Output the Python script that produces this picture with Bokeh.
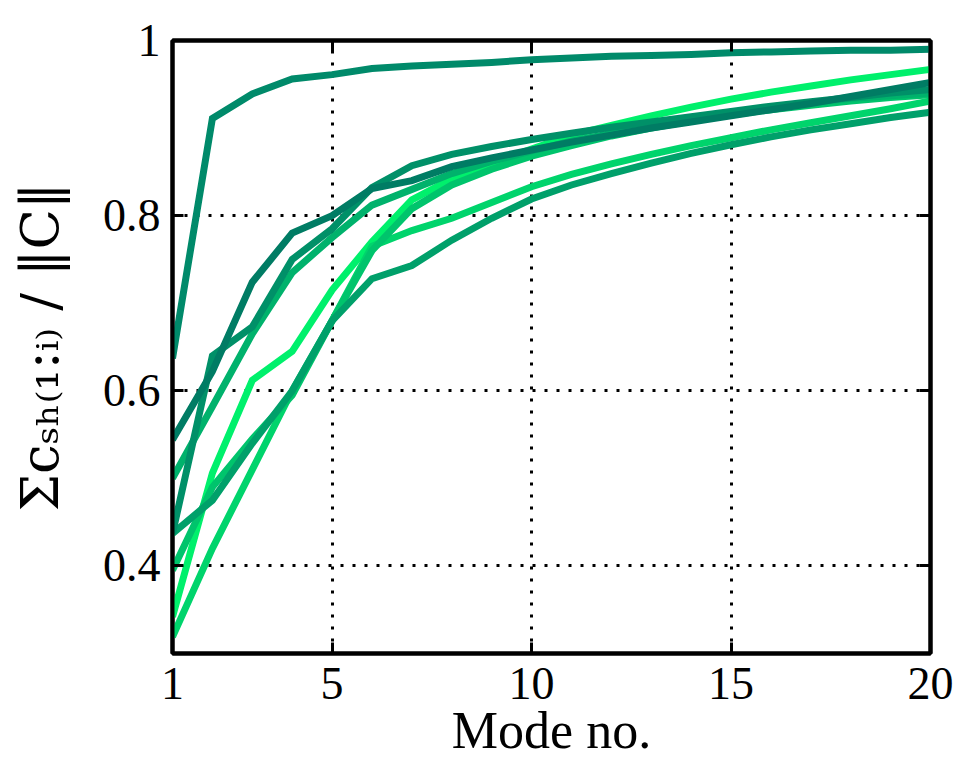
from bokeh.plotting import figure
from bokeh.models import FixedTicker, LinearAxis, NumeralTickFormatter, Range1d, CustomJSTickFormatter
from bokeh.embed import file_html
from bokeh.resources import INLINE

modes = list(range(1, 21))

# cumulative normalised contribution per curve
curve_a = [0.637, 0.911, 0.939, 0.956, 0.961, 0.968, 0.971, 0.973, 0.975, 0.978,
           0.980, 0.982, 0.983, 0.984, 0.986, 0.987, 0.988, 0.989, 0.989, 0.990]
curve_b = [0.544, 0.622, 0.724, 0.780, 0.800, 0.831, 0.840, 0.856, 0.866, 0.875,
           0.884, 0.892, 0.900, 0.907, 0.914, 0.921, 0.928, 0.936, 0.944, 0.952]
curve_u = [0.437, 0.640, 0.673, 0.750, 0.785, 0.832, 0.857, 0.870, 0.879, 0.887,
           0.894, 0.901, 0.907, 0.913, 0.919, 0.925, 0.930, 0.935, 0.940, 0.944]
curve_c = [0.500, 0.582, 0.665, 0.735, 0.775, 0.812, 0.830, 0.848, 0.862, 0.874,
           0.885, 0.894, 0.903, 0.911, 0.918, 0.924, 0.929, 0.934, 0.937, 0.940]
curve_x = [0.395, 0.490, 0.545, 0.595, 0.680, 0.760, 0.808, 0.835, 0.853, 0.868,
           0.880, 0.891, 0.900, 0.908, 0.915, 0.921, 0.926, 0.931, 0.935, 0.938]
curve_l = [0.342, 0.506, 0.612, 0.645, 0.715, 0.770, 0.818, 0.842, 0.860, 0.876,
           0.892, 0.903, 0.914, 0.924, 0.933, 0.941, 0.948, 0.955, 0.961, 0.967]
curve_lg = [0.319, 0.420, 0.510, 0.600, 0.680, 0.765, 0.783, 0.797, 0.815, 0.833,
            0.847, 0.859, 0.870, 0.880, 0.889, 0.898, 0.906, 0.914, 0.922, 0.931]
curve_lt = [0.437, 0.475, 0.540, 0.600, 0.680, 0.728, 0.743, 0.772, 0.797, 0.819,
            0.835, 0.848, 0.860, 0.871, 0.881, 0.890, 0.898, 0.905, 0.912, 0.918]

curves = [curve_l, curve_lg, curve_x, curve_c, curve_lt, curve_u, curve_a, curve_b]
colors = ["#00f06c", "#00d46c", "#00c46c", "#00b26c", "#00a06a", "#009068", "#008a6a", "#007c64"]

x_ticks = [1, 5, 10, 15, 20]
y_ticks = [0.4, 0.6, 0.8, 1.0]

FONT = "Liberation Serif"

p = figure(frame_width=758, frame_height=613,
           x_range=Range1d(1, 20), y_range=Range1d(0.3, 1.0),
           output_backend="svg", toolbar_location=None,
           min_border_left=172, min_border_top=40, min_border_right=28, min_border_bottom=100)

for ys, col in zip(curves, colors):
    p.line(modes, ys, line_color=col, line_width=7, line_join="miter")

p.xaxis.ticker = FixedTicker(ticks=x_ticks)
p.yaxis.ticker = FixedTicker(ticks=y_ticks)
p.yaxis.formatter = NumeralTickFormatter(format="0.[0]")

for ax in [p.xaxis[0], p.yaxis[0]]:
    ax.axis_line_width = 4
    ax.axis_line_color = "black"
    ax.major_tick_in = 11
    ax.major_tick_out = 0
    ax.major_tick_line_width = 3
    ax.minor_tick_line_color = None
    ax.major_label_text_font = FONT
    ax.major_label_text_font_size = "46px"
    ax.major_label_text_color = "black"
    ax.axis_label_text_color = "black"

p.xaxis.major_label_standoff = 14
p.yaxis.major_label_standoff = 12
p.xaxis.axis_label = "Mode no."
p.xaxis.axis_label_text_font = FONT
p.xaxis.axis_label_text_font_size = "52px"
p.xaxis.axis_label_text_font_style = "normal"
p.xaxis.axis_label_standoff = 0
p.yaxis.axis_label = "Σcₛₕ₍₁:ᵢ₎ / ‖C‖"
p.yaxis.axis_label_text_font = "DejaVu Serif"
p.yaxis.axis_label_text_font_size = "53px"
p.yaxis.axis_label_text_font_style = "normal"
p.yaxis.axis_label_standoff = 30

blank = CustomJSTickFormatter(code="return ''")
top = LinearAxis(ticker=FixedTicker(ticks=x_ticks), formatter=blank,
                 axis_line_width=4, major_tick_in=11, major_tick_out=0, major_tick_line_width=3,
                 minor_tick_line_color=None, major_label_standoff=0)
right = LinearAxis(ticker=FixedTicker(ticks=y_ticks), formatter=blank,
                   axis_line_width=4, major_tick_in=11, major_tick_out=0, major_tick_line_width=3,
                   minor_tick_line_color=None, major_label_standoff=0)
p.add_layout(top, "above")
p.add_layout(right, "right")

p.xgrid.ticker = FixedTicker(ticks=[5, 10, 15])
p.ygrid.ticker = FixedTicker(ticks=[0.4, 0.6, 0.8])
for g in [p.xgrid[0], p.ygrid[0]]:
    g.grid_line_color = "black"
    g.grid_line_width = 3
    g.grid_line_dash = "3 9"

p.outline_line_color = "black"
p.outline_line_width = 4
p.background_fill_color = "white"
p.border_fill_color = "white"

open("out.html", "w").write(file_html(p, INLINE))
